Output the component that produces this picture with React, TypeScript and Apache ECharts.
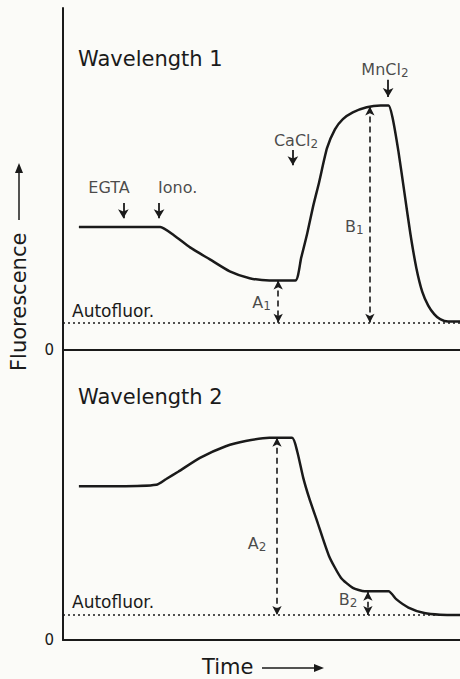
import React, { useEffect, useRef } from "react";
import * as echarts from "echarts";

// Time axis 0..100, fluorescence 0..100 in each panel
const trace1: [number, number][] = [
  [4, 36], [15, 36], [24.5, 36], [28, 33.5], [32, 30], [37, 26.5], [42, 23], [47, 21],
  [52, 20.3], [58.5, 20.3], [60, 27], [61.5, 34], [63, 42], [64.5, 49], [66.5, 59],
  [68.5, 64.5], [70.5, 67.5], [73, 69.5], [76.5, 71], [80, 71.5], [82, 71.5], [83, 68],
  [84.5, 58], [86, 46], [87.5, 34], [89, 24], [90.5, 17], [92, 13], [93.5, 10.5],
  [95, 9], [97, 8.3], [100, 8.3],
];
const trace2: [number, number][] = [
  [4, 53], [14, 53], [23.5, 53.5], [26, 55.5], [29, 58], [34.5, 62.8], [41, 66.8],
  [46, 68.6], [52, 69.7], [57.7, 69.7], [59, 65], [60.5, 56], [62, 49], [64, 41],
  [67, 29], [70, 21.5], [73, 18], [76, 16.8], [82, 16.8], [84, 14], [87, 11.2],
  [91, 9.3], [95, 8.7], [100, 8.6],
];
const autofluor1 = 8;
const autofluor2 = 8.6;

// additions (panel 1)
const additionNames = ["EGTA", "Iono.", "CaCl2", "MnCl2"];
const additionX = [15.2, 24.2, 57.9, 81.9];
const additionTop = [43, 43, 58.5, 79];
const additionBottom = [38.5, 38.5, 54, 74];
const additionLabelPos: [number, number][] = [[11.6, 47.4], [28.9, 47.4], [58.7, 61.4], [81.1, 81.9]];

// measured amplitudes
const measureNames1 = ["A1", "B1"];
const measureX1 = [54.2, 77.3];
const measureTop1 = [20.3, 71.2];
const measureLabelPos1: [number, number][] = [[50.0, 13.8], [73.4, 36]];
const measureNames2 = ["A2", "B2"];
const measureX2 = [53.9, 76.8];
const measureTop2 = [69.7, 16.6];
const measureLabelPos2: [number, number][] = [[48.9, 33.4], [71.8, 13.8]];

const FONT = '"DejaVu Sans", sans-serif';
const INK = "#1a1a1a";

const richFmt = (name: string) => {
  const m = name.match(/^(.*?)(\d)$/);
  if (m) return `{b|${m[1]}}{s|${m[2]}}`;
  return `{b|${name}}`;
};
const rich = {
  b: { fontSize: 16, fontFamily: FONT, color: INK },
  s: { fontSize: 12, fontFamily: FONT, color: INK, padding: [7, 0, 0, 0] },
};

export default function App() {
  const ref = useRef<HTMLDivElement>(null);
  useEffect(() => {
    if (!ref.current) return;
    const chart = echarts.init(ref.current, null, { renderer: "svg" });
    const axisLine = { show: true, lineStyle: { color: INK, width: 2 } };
    const xAxisBase = {
      type: "value" as const, min: 0, max: 100,
      axisLine: { ...axisLine, onZero: false }, axisTick: { show: false },
      axisLabel: { show: false }, splitLine: { show: false },
    };
    const yAxisBase = {
      type: "value" as const, min: 0, max: 100, interval: 100,
      axisLine: axisLine, axisTick: { show: false }, splitLine: { show: false },
      axisLabel: {
        show: true, margin: 9, fontSize: 15, fontFamily: FONT, color: INK,
        formatter: (v: number) => (v === 0 ? "0" : ""),
      },
    };
    const dotted = (y: number) => ({
      silent: true, symbol: ["none", "none"], label: { show: false },
      lineStyle: { type: [2, 3], width: 1.5, color: INK },
      data: [{ yAxis: y }],
    });
    const arrowLines = (xs: number[], tops: number[], bottoms: number[]) =>
      xs.map((x, i) => [{ coord: [x, tops[i]] }, { coord: [x, bottoms[i]] }]);
    const labelSeries = (names: string[], pos: [number, number][], gi: number) => ({
      type: "scatter" as const, xAxisIndex: gi, yAxisIndex: gi, symbolSize: 0, silent: true,
      data: pos.map((p, i) => ({ value: p, name: names[i] })),
      label: {
        show: true, position: "inside" as const, fontSize: 16, fontFamily: FONT, color: INK,
        formatter: (p: any) => richFmt(p.name), rich,
      },
    });
    chart.setOption({
      animation: false,
      backgroundColor: "#fbfbf8",
      grid: [
        { left: 63, right: 0, top: 8, height: 342 },
        { left: 63, right: 0, top: 350, height: 290 },
      ],
      xAxis: [{ ...xAxisBase, gridIndex: 0 }, { ...xAxisBase, gridIndex: 1 }],
      yAxis: [{ ...yAxisBase, gridIndex: 0 }, { ...yAxisBase, gridIndex: 1 }],
      series: [
        {
          type: "line", xAxisIndex: 0, yAxisIndex: 0, data: trace1, symbol: "none",
          smooth: 0.2, lineStyle: { color: INK, width: 2.5 }, silent: true,
          markLine: dotted(autofluor1),
        },
        {
          type: "line", xAxisIndex: 1, yAxisIndex: 1, data: trace2, symbol: "none",
          smooth: 0.2, lineStyle: { color: INK, width: 2.5 }, silent: true,
          markLine: dotted(autofluor2),
        },
        {
          type: "line", xAxisIndex: 0, yAxisIndex: 0, data: [], silent: true,
          markLine: {
            silent: true, symbol: ["none", "arrow"], symbolSize: [8, 9],
            lineStyle: { type: "solid", width: 1.8, color: INK },
            label: { show: false },
            data: arrowLines(additionX, additionTop, additionBottom),
          },
        },
        {
          type: "line", xAxisIndex: 0, yAxisIndex: 0, data: [], silent: true,
          markLine: {
            silent: true, symbol: ["arrow", "arrow"], symbolSize: [7, 9],
            lineStyle: { type: [6, 4], width: 1.6, color: INK },
            label: { show: false },
            data: arrowLines(measureX1, measureTop1, [autofluor1, autofluor1]),
          },
        },
        {
          type: "line", xAxisIndex: 1, yAxisIndex: 1, data: [], silent: true,
          markLine: {
            silent: true, symbol: ["arrow", "arrow"], symbolSize: [7, 9],
            lineStyle: { type: [6, 4], width: 1.6, color: INK },
            label: { show: false },
            data: arrowLines(measureX2, measureTop2, [autofluor2, autofluor2]),
          },
        },
        labelSeries(additionNames, additionLabelPos, 0),
        labelSeries(measureNames1, measureLabelPos1, 0),
        labelSeries(measureNames2, measureLabelPos2, 1),
      ],
      graphic: [
        { type: "text", left: 78, top: 48, style: { text: "Wavelength 1", font: `21px ${FONT}`, fill: INK } },
        { type: "text", left: 78, top: 386, style: { text: "Wavelength 2", font: `21px ${FONT}`, fill: INK } },
        { type: "text", left: 72, top: 302, style: { text: "Autofluor.", font: `17px ${FONT}`, fill: INK } },
        { type: "text", left: 72, top: 593, style: { text: "Autofluor.", font: `17px ${FONT}`, fill: INK } },
        {
          type: "text", x: 19, y: 371, rotation: Math.PI / 2,
          style: { text: "Fluorescence", font: `21px ${FONT}`, fill: INK, textAlign: "left", textVerticalAlign: "middle" },
        },
        { type: "line", shape: { x1: 19, y1: 220, x2: 19, y2: 170 }, style: { stroke: INK, lineWidth: 1.5 } },
        { type: "polygon", shape: { points: [[19, 163], [15, 173], [23, 173]] }, style: { fill: INK } },
        {
          type: "text", x: 202, y: 667,
          style: { text: "Time", font: `21px ${FONT}`, fill: INK, textAlign: "left", textVerticalAlign: "middle" },
        },
        { type: "line", shape: { x1: 262, y1: 668, x2: 316, y2: 668 }, style: { stroke: INK, lineWidth: 1.5 } },
        { type: "polygon", shape: { points: [[324, 668], [314, 664], [314, 672]] }, style: { fill: INK } },
      ],
    });
    return () => chart.dispose();
  }, []);
  return (
    <div
      ref={ref}
      style={{ position: "fixed", left: 0, top: 0, width: 460, height: 679 }}
    />
  );
}
